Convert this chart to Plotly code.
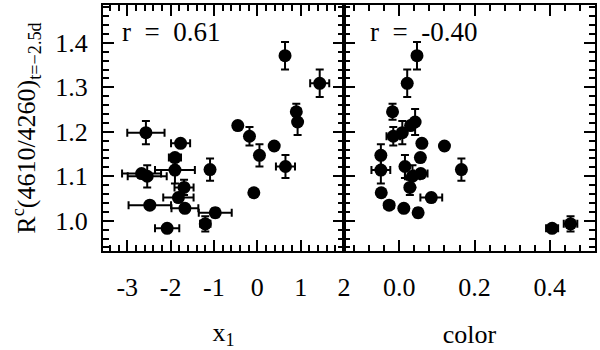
import plotly.graph_objects as go

# ratio R^c(4610/4260) at t = -2.5d, one entry per supernova
ratio = [1.371, 1.309, 1.245, 1.222, 1.214, 1.190, 1.198, 1.174, 1.168, 1.147, 1.142, 1.122,
         1.115, 1.114, 1.106, 1.100, 1.075, 1.063, 1.052, 1.035, 1.028, 1.018, 0.993, 0.983]
ratio_err = [0.031, 0.031, 0.018, 0.029, 0.0, 0.021, 0.026, 0.0, 0.0, 0.025, 0.0, 0.026,
             0.025, 0.030, 0.0, 0.025, 0.017, 0.0, 0.0, 0.0, 0.0, 0.010, 0.017, 0.0]

# SALT2 stretch x1
x1 = [0.64, 1.44, 0.90, 0.93, -0.45, -0.18, -2.57, -1.77, 0.39, 0.05, -1.90, 0.65,
      -1.09, -1.90, -2.67, -2.54, -1.69, -0.08, -1.82, -2.48, -1.67, -0.97, -1.20, -2.08]
x1_err = [0.0, 0.22, 0.0, 0.0, 0.05, 0.0, 0.43, 0.22, 0.0, 0.0, 0.14, 0.22,
          0.0, 0.46, 0.45, 0.45, 0.22, 0.0, 0.35, 0.49, 0.31, 0.38, 0.12, 0.28]

# SALT2 color
color = [0.047, 0.021, -0.018, 0.042, 0.030, -0.016, 0.008, 0.060, 0.120, -0.049, 0.056, 0.015,
         0.165, -0.049, 0.057, 0.035, 0.028, -0.048, 0.085, -0.027, 0.012, 0.050, 0.455, 0.406]
color_err = [0.0, 0.0, 0.006, 0.0, 0.0, 0.018, 0.0, 0.0, 0.0, 0.0, 0.0, 0.0,
             0.0, 0.025, 0.018, 0.020, 0.0, 0.0, 0.029, 0.012, 0.008, 0.0, 0.018, 0.016]

x1_ticks = [-3, -2, -1, 0, 1, 2]
x1_ticktext = ["-3", "-2", "-1", "0", "1", "2"]
color_ticks = [0.0, 0.2, 0.4]
color_ticktext = ["0.0", "0.2", "0.4"]
ratio_ticks = [1.0, 1.1, 1.2, 1.3, 1.4]
ratio_ticktext = ["1.0", "1.1", "1.2", "1.3", "1.4"]

corr_labels = ["r\u00a0 =\u00a0 0.61", "r\u00a0 =\u00a0 -0.40"]

FONT = "Times New Roman, Liberation Serif, DejaVu Serif, serif"
FS = 26
SPLIT = 0.4898

err_style = dict(type="data", color="black", thickness=2, width=4)
marker_style = dict(color="black", size=13)

fig = go.Figure()
fig.add_trace(go.Scatter(
    x=x1, y=ratio, mode="markers", marker=marker_style,
    error_x=dict(array=x1_err, **err_style), error_y=dict(array=ratio_err, **err_style),
    xaxis="x", yaxis="y", showlegend=False))
fig.add_trace(go.Scatter(
    x=color, y=ratio, mode="markers", marker=marker_style,
    error_x=dict(array=color_err, **err_style), error_y=dict(array=ratio_err, **err_style),
    xaxis="x2", yaxis="y2", showlegend=False))

axis_common = dict(
    showline=True, linecolor="black", linewidth=2, mirror="ticks",
    ticks="inside", ticklen=11, tickwidth=2, tickcolor="black",
    showgrid=False, zeroline=False, automargin=False,
    tickfont=dict(family=FONT, size=FS, color="black"),
)
minor_common = dict(ticks="inside", ticklen=6, tickwidth=1.5, tickcolor="black")

fig.update_layout(
    width=600, height=350,
    margin=dict(l=103, r=5, t=5, b=99),
    plot_bgcolor="white", paper_bgcolor="white",
    font=dict(family=FONT, size=FS, color="black"),
    xaxis=dict(domain=[0, SPLIT], range=[-3.56, 2.0001], anchor="y",
               tickvals=x1_ticks, ticktext=x1_ticktext, ticklabelstandoff=12,
               minor=dict(tick0=0, dtick=0.2, **minor_common),
               title=dict(text="x<sub>1</sub>", standoff=24, font=dict(family=FONT, size=FS)),
               **axis_common),
    xaxis2=dict(domain=[SPLIT, 1], range=[-0.147, 0.52], anchor="y2",
                tickvals=color_ticks, ticktext=color_ticktext, ticklabelstandoff=12,
                minor=dict(tick0=0, dtick=0.04, **minor_common),
                title=dict(text="color", standoff=24, font=dict(family=FONT, size=FS)),
                **axis_common),
    yaxis=dict(range=[0.932, 1.485], anchor="x",
               tickvals=ratio_ticks, ticktext=ratio_ticktext, ticklabelstandoff=8,
               minor=dict(tick0=1.0, dtick=0.02, **minor_common),
               title=dict(text="R<sup>c</sup>(4610/4260)<sub>t=\u22122.5d</sub>", standoff=12,
                          font=dict(family=FONT, size=FS)),
               **axis_common),
    yaxis2=dict(matches="y", anchor="x2", showticklabels=False, tickvals=ratio_ticks,
                minor=dict(tick0=1.0, dtick=0.02, **minor_common),
                **axis_common),
)

for i, txt in enumerate(corr_labels):
    ref = "x domain" if i == 0 else "x2 domain"
    yref = "y domain" if i == 0 else "y2 domain"
    fig.add_annotation(text=txt, xref=ref, yref=yref, x=0.07 if i == 0 else 0.096, y=0.89,
                       xanchor="left", yanchor="middle", showarrow=False,
                       font=dict(family=FONT, size=27, color="black"))

# the page body has a default 8px margin; drop it so the figure sits at the window corner
fig.write_html("out.html", config={"displayModeBar": False},
               post_script="document.body.style.margin='0';")
